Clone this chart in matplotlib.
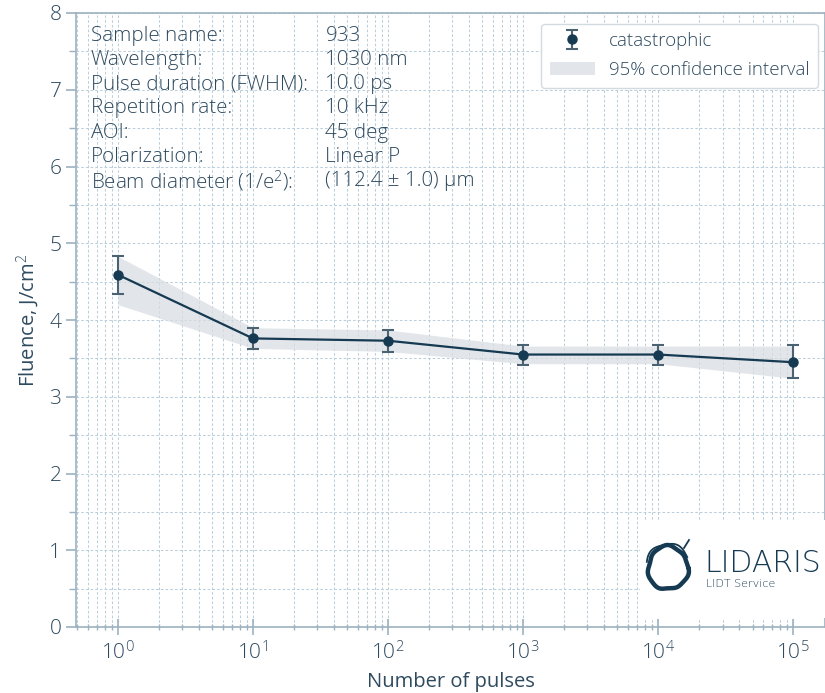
import matplotlib
matplotlib.use('Agg')
import matplotlib.pyplot as plt
from matplotlib.ticker import LogLocator, MultipleLocator, NullFormatter
import numpy as np

plt.rcParams['font.family'] = ['Open Sans', 'DejaVu Sans']
plt.rcParams['font.weight'] = 'light'
plt.rcParams['mathtext.fontset'] = 'custom'
plt.rcParams['mathtext.rm'] = 'Open Sans:light'
plt.rcParams['mathtext.it'] = 'Open Sans:light'

TEXT = '#2e4a5f'
LINE = '#163a52'
ERR = '#4b6273'
GRID = '#bccedb'
SPINE = '#9db2c1'
BAND = '#d9dee3'

# Measured damage thresholds
pulses = [1, 10, 100, 1000, 10000, 100000]
fluence = [4.59, 3.76, 3.73, 3.55, 3.55, 3.45]
err_low = [4.34, 3.62, 3.58, 3.42, 3.42, 3.24]
err_high = [4.83, 3.90, 3.87, 3.67, 3.67, 3.67]
ci_low = [4.20, 3.63, 3.59, 3.43, 3.43, 3.24]
ci_high = [4.83, 3.90, 3.87, 3.66, 3.66, 3.66]

info_labels = ['Sample name:', 'Wavelength:', 'Pulse duration (FWHM):',
               'Repetition rate:', 'AOI:', 'Polarization:',
               r'Beam diameter (1/e$^2$):']
info_values = ['933', '1030 nm', '10.0 ps', '10 kHz', '45 deg', 'Linear P',
               '(112.4 ± 1.0) µm']

fig = plt.figure(figsize=(8.25, 6.93), dpi=100)
ax = fig.add_axes([76 / 825, 1 - 627 / 693, 1 - 76 / 825, (627 - 13) / 693])

ax.fill_between(pulses, ci_low, ci_high, color=BAND, alpha=0.75, lw=0,
                label='95% confidence interval', zorder=2)
ax.plot(pulses, fluence, color=LINE, lw=1.6, zorder=3)
yerr = [np.subtract(fluence, err_low), np.subtract(err_high, fluence)]
ax.errorbar(pulses, fluence, yerr=yerr, fmt='o', color=LINE, ecolor=ERR,
            ms=6.5, elinewidth=1.5, capsize=4.5, capthick=1.5,
            label='catastrophic', zorder=4)

ax.set_xscale('log')
ax.set_xlim(0.49, 1.72e5)
ax.set_ylim(0, 8)
ax.xaxis.set_major_locator(LogLocator(base=10, numticks=10))
ax.xaxis.set_minor_locator(LogLocator(base=10, subs=np.arange(2, 10), numticks=20))
ax.xaxis.set_minor_formatter(NullFormatter())
ax.yaxis.set_major_locator(MultipleLocator(1))
ax.yaxis.set_minor_locator(MultipleLocator(0.5))

ax.grid(which='both', color=GRID, ls=(0, (2.5, 2)), lw=0.75, zorder=0)
for side in ['left', 'bottom', 'top', 'right']:
    ax.spines[side].set_color(SPINE)
    ax.spines[side].set_linewidth(1.2)
ax.tick_params(which='major', colors=SPINE, labelcolor=TEXT, labelsize=15,
               length=7, width=1.2)
ax.tick_params(which='minor', colors=SPINE, length=5, width=1.0)
ax.tick_params(axis='x', which='both', direction='inout')
ax.tick_params(axis='x', which='major', length=12, pad=4)

ax.set_xlabel('Number of pulses', fontsize=14.5, color=TEXT, labelpad=6)
ax.set_ylabel(r'Fluence, J/cm$^2$', fontsize=14.5, color=TEXT, labelpad=6)

row_y = 0.963
for i, (lab, val) in enumerate(zip(info_labels, info_values)):
    y = row_y - i * 0.0395
    ax.text(0.0195, y, lab, transform=ax.transAxes, fontsize=14.8, color=TEXT,
            va='center', ha='left', zorder=5)
    ax.text(0.333, y, val, transform=ax.transAxes, fontsize=14.8, color=TEXT,
            va='center', ha='left', zorder=5)

handles, labels = ax.get_legend_handles_labels()
leg = ax.legend(handles=handles[::-1], labels=labels[::-1],
                loc='upper right', bbox_to_anchor=(1.003, 0.998), fontsize=13.5,
                frameon=True, fancybox=True, framealpha=1, edgecolor='#d4dbe0',
                labelcolor=TEXT, handlelength=2.4, borderpad=0.45,
                handletextpad=0.75, labelspacing=0.6)
leg.set_zorder(6)

# Logo block in the lower right corner
lx = fig.add_axes([640 / 825, 1 - 618 / 693, 185 / 825, 98 / 693])
lx.set_xlim(0, 185)
lx.set_ylim(98, 0)
lx.set_facecolor('white')
for s in lx.spines.values():
    s.set_visible(False)
lx.set_xticks([])
lx.set_yticks([])
t = np.linspace(0, 2 * np.pi, 300)
r = 20 + 0.9 * np.sin(3 * t + 0.5) + 0.5 * np.sin(7 * t)
cx, cy = 28, 48
lx.plot(cx + r * np.cos(t), cy + 1.08 * r * np.sin(t), color=LINE, lw=3.2,
        solid_capstyle='round')
r2 = 22.5 + 0.8 * np.sin(5 * t + 1.0)
mask = (t > 3.4) & (t < 5.8)
lx.plot(cx + r2[mask] * np.cos(t[mask]), cy + 1.08 * r2[mask] * np.sin(t[mask]),
        color=LINE, lw=1.3)
lx.plot([44, 49], [28, 20], color=LINE, lw=1.3)
lx.text(64, 44, 'LIDARIS', fontsize=21.5, color=LINE, fontfamily='DejaVu Sans',
        fontweight='light', va='center', ha='left')
lx.text(66, 64, 'LIDT Service', fontsize=8, color=LINE,
        fontfamily='DejaVu Sans', va='center', ha='left')

fig.savefig('out.png', dpi=100, facecolor='white')
